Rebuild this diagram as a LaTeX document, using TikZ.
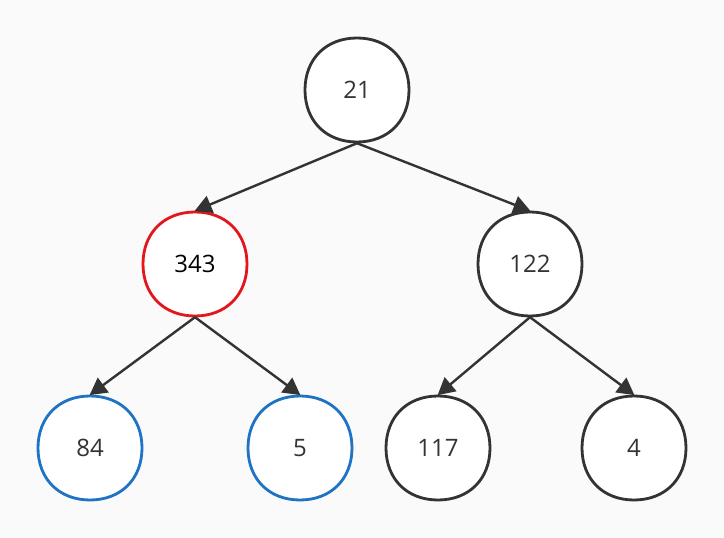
\documentclass[tikz,border=0pt]{standalone}
\usepackage{fontspec}
\setmainfont{Open Sans}
\usetikzlibrary{arrows.meta}
\definecolor{bg}{HTML}{FAFAFA}
\definecolor{ink}{HTML}{333333}
\definecolor{redb}{HTML}{E3161B}
\definecolor{blueb}{HTML}{1F73C4}
\tikzset{
  sq/.pic={\draw[line width=2.8pt, fill=white] (52,0) .. controls (52,31) and (31,52) .. (0,52) .. controls (-31,52) and (-52,31) .. (-52,0) .. controls (-52,-31) and (-31,-52) .. (0,-52) .. controls (31,-52) and (52,-31) .. (52,0) -- cycle;},
  tn/.style={circle, minimum size=106pt, inner sep=0pt, text=ink,
    font=\fontsize{24}{28}\selectfont},
  edge/.style={draw=ink, line width=2.4pt, -{Triangle[length=17pt,width=18pt]}, shorten >=-0.5pt}
}
\begin{document}
\begin{tikzpicture}[x=1pt,y=-1pt]
\fill[bg] (0,0) rectangle (724,538);
\useasboundingbox (0,0) rectangle (724,538);
\pic[draw=ink] at (357,90) {sq};
\pic[draw=redb] at (195,264) {sq};
\pic[draw=ink] at (530,264) {sq};
\pic[draw=blueb] at (90,448) {sq};
\pic[draw=blueb] at (300,448) {sq};
\pic[draw=ink] at (438,448) {sq};
\pic[draw=ink] at (634,448) {sq};
\node[tn] (n21) at (357,90) {21};
\node[tn, text=black] (n343) at (195,264) {343};
\node[tn] (n122) at (530,264) {122};
\node[tn] (n84) at (90,448) {84};
\node[tn] (n5) at (300,448) {5};
\node[tn] (n117) at (438,448) {117};
\node[tn] (n4) at (634,448) {4};
\draw[edge] (n21.south) -- (n343.north);
\draw[edge] (n21.south) -- (n122.north);
\draw[edge] (n343.south) -- (n84.north);
\draw[edge] (n343.south) -- (n5.north);
\draw[edge] (n122.south) -- (n117.north);
\draw[edge] (n122.south) -- (n4.north);
\end{tikzpicture}
\end{document}
